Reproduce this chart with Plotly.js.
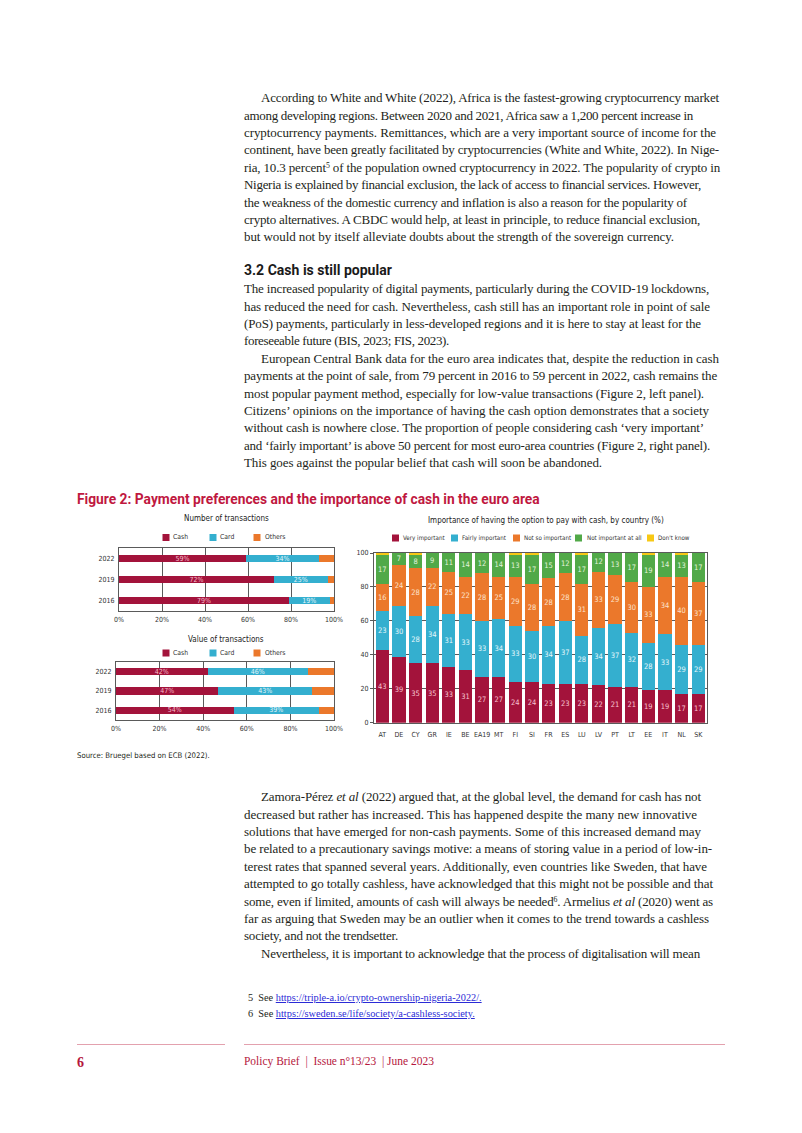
<!DOCTYPE html>
<html><head><meta charset="utf-8">
<script src="https://cdn.plot.ly/plotly-3.0.1.min.js"></script>
<style>
html,body{margin:0;padding:0;background:#fff;}
body{width:802px;height:1133px;position:relative;overflow:hidden;}
.para{position:absolute;left:244px;font-family:"Liberation Serif",serif;color:#231f20;font-size:13px;line-height:17.4px;}
.ln{height:17.4px;white-space:nowrap;}
.ln span{display:inline-block;}
.ind{padding-left:17px;}
sup{font-size:0.6em;vertical-align:baseline;position:relative;top:-0.5em;line-height:0;}
.fit{position:absolute;white-space:nowrap;}
#h32{left:244px;top:262px;font-family:Roboto,"Noto Sans",sans-serif;font-weight:700;font-size:15px;color:#1a1a1a;}
#figt{left:77px;top:491px;font-family:Roboto,"Noto Sans",sans-serif;font-weight:700;font-size:13px;color:#c0183f;}
#src{left:77px;top:751px;font-family:"DejaVu Sans Condensed","DejaVu Sans",sans-serif;font-size:8px;color:#231f20;}
.fn{left:248px;font-family:"Liberation Serif",serif;font-size:10px;color:#231f20;}
.fn a{color:#2b2bd6;text-decoration:underline;}
#fn5{top:992px;}
#fn6{top:1008px;}
.rule{position:absolute;top:1044px;height:0;border-top:1px solid #e3a1ae;}
#pg{left:77px;top:1055px;font-family:"Liberation Serif",serif;font-weight:700;font-size:14px;color:#b5173d;}
#foot{left:244px;top:1055px;font-family:"Liberation Serif",serif;font-size:13px;color:#b5173d;}
#fig{position:absolute;left:0;top:505px;width:802px;height:265px;}
</style>
</head>
<body>

<div class="para" id="p1" style="top:89.3px">
<div class="ln ind" data-end="719"><span>According to White and White (2022), Africa is the fastest-growing cryptocurrency market</span></div>
<div class="ln" data-end="693"><span>among developing regions. Between 2020 and 2021, Africa saw a 1,200 percent increase in</span></div>
<div class="ln" data-end="716"><span>cryptocurrency payments. Remittances, which are a very important source of income for the</span></div>
<div class="ln" data-end="719"><span>continent, have been greatly facilitated by cryptocurrencies (White and White, 2022). In Nige-</span></div>
<div class="ln" data-end="720"><span>ria, 10.3 percent<sup>5</sup> of the population owned cryptocurrency in 2022. The popularity of crypto in</span></div>
<div class="ln" data-end="701"><span>Nigeria is explained by financial exclusion, the lack of access to financial services. However,</span></div>
<div class="ln" data-end="687"><span>the weakness of the domestic currency and inflation is also a reason for the popularity of</span></div>
<div class="ln" data-end="700"><span>crypto alternatives. A CBDC would help, at least in principle, to reduce financial exclusion,</span></div>
<div class="ln" data-end="674"><span>but would not by itself alleviate doubts about the strength of the sovereign currency.</span></div>
</div>

<div class="fit" id="h32">3.2 Cash is still popular</div>

<div class="para" id="p2" style="top:280.3px">
<div class="ln" data-end="709"><span>The increased popularity of digital payments, particularly during the COVID-19 lockdowns,</span></div>
<div class="ln" data-end="710"><span>has reduced the need for cash. Nevertheless, cash still has an important role in point of sale</span></div>
<div class="ln" data-end="701"><span>(PoS) payments, particularly in less-developed regions and it is here to stay at least for the</span></div>
<div class="ln" data-end="449"><span>foreseeable future (BIS, 2023; FIS, 2023).</span></div>
<div class="ln ind" data-end="719"><span>European Central Bank data for the euro area indicates that, despite the reduction in cash</span></div>
<div class="ln" data-end="717"><span>payments at the point of sale, from 79 percent in 2016 to 59 percent in 2022, cash remains the</span></div>
<div class="ln" data-end="704"><span>most popular payment method, especially for low-value transactions (Figure 2, left panel).</span></div>
<div class="ln" data-end="709"><span>Citizens’ opinions on the importance of having the cash option demonstrates that a society</span></div>
<div class="ln" data-end="704"><span>without cash is nowhere close. The proportion of people considering cash ‘very important’</span></div>
<div class="ln" data-end="710"><span>and ‘fairly important’ is above 50 percent for most euro-area countries (Figure 2, right panel).</span></div>
<div class="ln" data-end="602"><span>This goes against the popular belief that cash will soon be abandoned.</span></div>
</div>

<div class="fit" id="figt">Figure 2: Payment preferences and the importance of cash in the euro area</div>

<div id="fig"></div>

<div class="fit" id="src">Source: Bruegel based on ECB (2022).</div>

<div class="para" id="p4" style="top:788.3px">
<div class="ln ind" data-end="701"><span>Zamora-Pérez <i>et al</i> (2022) argued that, at the global level, the demand for cash has not</span></div>
<div class="ln" data-end="697"><span>decreased but rather has increased. This has happened despite the many new innovative</span></div>
<div class="ln" data-end="701"><span>solutions that have emerged for non-cash payments. Some of this increased demand may</span></div>
<div class="ln" data-end="712"><span>be related to a precautionary savings motive: a means of storing value in a period of low-in-</span></div>
<div class="ln" data-end="707"><span>terest rates that spanned several years. Additionally, even countries like Sweden, that have</span></div>
<div class="ln" data-end="713"><span>attempted to go totally cashless, have acknowledged that this might not be possible and that</span></div>
<div class="ln" data-end="713"><span>some, even if limited, amounts of cash will always be needed<sup>6</sup>. Armelius <i>et al</i> (2020) went as</span></div>
<div class="ln" data-end="709"><span>far as arguing that Sweden may be an outlier when it comes to the trend towards a cashless</span></div>
<div class="ln" data-end="398"><span>society, and not the trendsetter.</span></div>
<div class="ln ind" data-end="700"><span>Nevertheless, it is important to acknowledge that the process of digitalisation will mean</span></div>
</div>

<div class="fit fn" id="fn5">5&nbsp;&nbsp;See <a>https://triple-a.io/crypto-ownership-nigeria-2022/.</a></div>
<div class="fit fn" id="fn6">6&nbsp;&nbsp;See <a>https://sweden.se/life/society/a-cashless-society.</a></div>

<div class="rule" style="left:77px;width:148px"></div>
<div class="rule" style="left:244px;width:481px"></div>
<div class="fit" id="pg">6</div>
<div class="fit" id="foot">Policy Brief&nbsp; |&nbsp; Issue n°13/23&nbsp; | June 2023</div>

<script>
// ---------- DATA ----------
const years = ['2016', '2019', '2022'];
const payNames = ['Cash', 'Card', 'Others'];
const numCash = [79, 72, 59];
const numCard = [19, 25, 34];
const numOthers = [2, 3, 7];
const valCash = [54, 47, 42];
const valCard = [39, 43, 46];
const valOthers = [7, 10, 12];
const pctTicks = [0, 20, 40, 60, 80, 100];
const pctLabels = ['0%', '20%', '40%', '60%', '80%', '100%'];

const countries = ['AT','DE','CY','GR','IE','BE','EA19','MT','FI','SI','FR','ES','LU','LV','PT','LT','EE','IT','NL','SK'];
const impNames = ['Very important', 'Fairly important', 'Not so important', 'Not important at all', "Don't know"];
const veryImportant   = [43,39,35,35,33,31,27,27,24,24,23,23,23,22,21,21,19,19,17,17];
const fairlyImportant = [23,30,28,34,31,33,33,34,33,30,34,37,28,34,37,32,28,33,29,29];
const notSoImportant  = [16,24,28,22,25,22,28,25,29,28,28,28,31,33,29,30,33,34,40,37];
const notAtAll        = [17,7,8,9,11,14,12,14,13,17,15,12,17,12,13,17,19,14,13,17];
const dontKnow        = [1,0.5,1,0.5,0.5,0.5,0.5,0.5,1,1,0.5,0.5,1,0.5,0.5,0.5,1,0.5,1,0.5];
const yTicks = [0, 20, 40, 60, 80, 100];

// ---------- TEXT FITTING ----------
function fitLines(){
  document.querySelectorAll('.ln').forEach(div=>{
    const sp = div.querySelector('span');
    const start = div.classList.contains('ind') ? 261 : 244;
    const target = (+div.dataset.end) - start;
    const w = sp.getBoundingClientRect().width;
    const n = sp.textContent.length;
    sp.style.letterSpacing = ((target - w) / n) + 'px';
  });
}
function fitW(id, target){
  const el = document.getElementById(id);
  const fs = parseFloat(getComputedStyle(el).fontSize);
  const w = el.getBoundingClientRect().width;
  el.style.fontSize = (fs * target / w) + 'px';
}
fitLines();
fitW('h32', 148);
fitW('figt', 463);
fitW('src', 133);
fitW('fn5', 234);
fitW('fn6', 227);
fitW('foot', 190);

// ---------- CHARTS ----------
const FT = 505, FH = 265, W = 802;
const xd = px => px / W;
const yd = py => 1 - (py - FT) / FH;
const CF = '"DejaVu Sans Condensed","DejaVu Sans",Roboto,sans-serif';
const GRID = '#5a5a5a';
const C_RED = '#a3133b', C_BLUE = '#34afcf', C_ORANGE = '#eb782b', C_GREEN = '#51a948', C_YELLOW = '#f7c815';
const payColors = [C_RED, C_BLUE, C_ORANGE];
const impColors = [C_RED, C_BLUE, C_ORANGE, C_GREEN, C_YELLOW];

function hbar(vals, name, color, xa, ya, txtColor, w){
  const t = {type:'bar', orientation:'h', x: vals, y: years, name: name,
    marker:{color: color, line:{width:0}}, width: w, xaxis: xa, yaxis: ya,
    hoverinfo:'skip'};
  if (txtColor){
    t.text = vals.map(v => v + '%');
    t.textposition = 'inside'; t.insidetextanchor = 'middle';
    t.textangle = 0; t.constraintext = 'none';
    t.textfont = {family: CF, size: 7, color: txtColor};
  } else { t.textposition = 'none'; }
  return t;
}
function vbar(vals, name, color, txtColor){
  const t = {type:'bar', x: countries, y: vals, name: name,
    marker:{color: color, line:{width:0}}, width: 0.8, xaxis:'x3', yaxis:'y3', hoverinfo:'skip'};
  if (txtColor){
    t.text = vals.map(String);
    t.textposition = 'inside'; t.insidetextanchor = 'middle';
    t.textangle = 0; t.constraintext = 'none';
    t.textfont = {family: CF, size: 7.5, color: txtColor};
  } else { t.textposition = 'none'; }
  return t;
}

const traces = [
  hbar(numCash, payNames[0], C_RED, 'x', 'y', '#f7bccb', 0.38),
  hbar(numCard, payNames[1], C_BLUE, 'x', 'y', '#e4f6fb', 0.38),
  hbar(numOthers, payNames[2], C_ORANGE, 'x', 'y', null, 0.38),
  hbar(valCash, payNames[0], C_RED, 'x2', 'y2', '#f7bccb', 0.37),
  hbar(valCard, payNames[1], C_BLUE, 'x2', 'y2', '#e4f6fb', 0.37),
  hbar(valOthers, payNames[2], C_ORANGE, 'x2', 'y2', null, 0.37),
  vbar(veryImportant, impNames[0], C_RED, '#f7c3d0'),
  vbar(fairlyImportant, impNames[1], C_BLUE, '#e6f7fb'),
  vbar(notSoImportant, impNames[2], C_ORANGE, '#fde3cd'),
  vbar(notAtAll, impNames[3], C_GREEN, '#e3f3dc'),
  vbar(dontKnow, impNames[4], C_YELLOW, null)
];

function pctX(domain, anchor){
  return {domain: domain, anchor: anchor, range:[0,100], tickvals: pctTicks, ticktext: pctLabels,
    showgrid:true, gridcolor: GRID, gridwidth:1, showline:true, mirror:true, linecolor: GRID, linewidth:1,
    zeroline:false, ticks:'', ticklabelstandoff: 2, tickfont:{family: CF, size:7, color:'#333'}, fixedrange:true};
}
function yearY(domain, anchor){
  return {domain: domain, anchor: anchor, type:'category', categoryorder:'array', categoryarray: years,
    showgrid:false, showline:true, mirror:true, linecolor: GRID, linewidth:1, ticks:'',
    ticklabelstandoff: 2, tickfont:{family: CF, size:7, color:'#333'}, fixedrange:true};
}

const annotations = [], shapes = [];
function title(text, cx, cy){
  annotations.push({text: text, x: xd(cx), y: yd(cy), xref:'paper', yref:'paper', showarrow:false,
    xanchor:'center', yanchor:'middle', font:{family: CF, size:8, color:'#222'}});
}
function legend(names, colors, sqX, txtX, cy, fs){
  names.forEach((n, i) => {
    shapes.push({type:'rect', xref:'paper', yref:'paper', x0: xd(sqX[i]), x1: xd(sqX[i] + 7),
      y0: yd(cy + 3.5), y1: yd(cy - 3.5), fillcolor: colors[i], line:{width:0}});
    annotations.push({text: n, x: xd(txtX[i]), y: yd(cy), xref:'paper', yref:'paper', showarrow:false,
      xanchor:'left', yanchor:'middle', xshift:-2, font:{family: CF, size: fs, color:'#333'}});
  });
}
title('Number of transactions', 226, 519);
title('Value of transactions', 226, 639);
title('Importance of having the option to pay with cash, by country (%)', 546, 521);
legend(payNames, payColors, [162.5, 209.5, 253.5], [173, 220, 265], 537.5, 6.8);
legend(payNames, payColors, [162.5, 209.5, 253.5], [173, 220, 265], 653, 6.8);
legend(impNames, impColors, [392, 451, 513, 575, 647], [403, 462, 524, 587, 658], 538, 6.2);

const layout = {
  width: W, height: FH, margin:{l:0, r:0, t:0, b:0},
  paper_bgcolor:'rgba(0,0,0,0)', plot_bgcolor:'rgba(0,0,0,0)',
  barmode:'stack', showlegend:false,
  font:{family: CF, size:7, color:'#333'},
  xaxis: pctX([xd(119), xd(334)], 'y'),
  yaxis: yearY([yd(611), yd(548)], 'x'),
  xaxis2: pctX([xd(116), xd(334)], 'y2'),
  yaxis2: yearY([yd(720), yd(662)], 'x2'),
  xaxis3: {domain:[xd(374), xd(706.5)], anchor:'y3', type:'category', showgrid:false,
    showline:true, mirror:true, linecolor: GRID, linewidth:1, ticks:'', ticklabelstandoff: 5,
    tickfont:{family: CF, size:7, color:'#333'}, fixedrange:true},
  yaxis3: {domain:[yd(722.7), yd(553)], anchor:'x3', range:[0,100], tickvals: yTicks,
    showgrid:true, gridcolor: GRID, gridwidth:1, showline:true, mirror:true, linecolor: GRID, linewidth:1,
    zeroline:false, ticks:'outside', ticklen:3, tickcolor: GRID,
    tickfont:{family: CF, size:7, color:'#333'}, fixedrange:true},
  annotations: annotations, shapes: shapes
};

Plotly.newPlot('fig', traces, layout, {displayModeBar:false, staticPlot:true});
</script>
</body></html>
